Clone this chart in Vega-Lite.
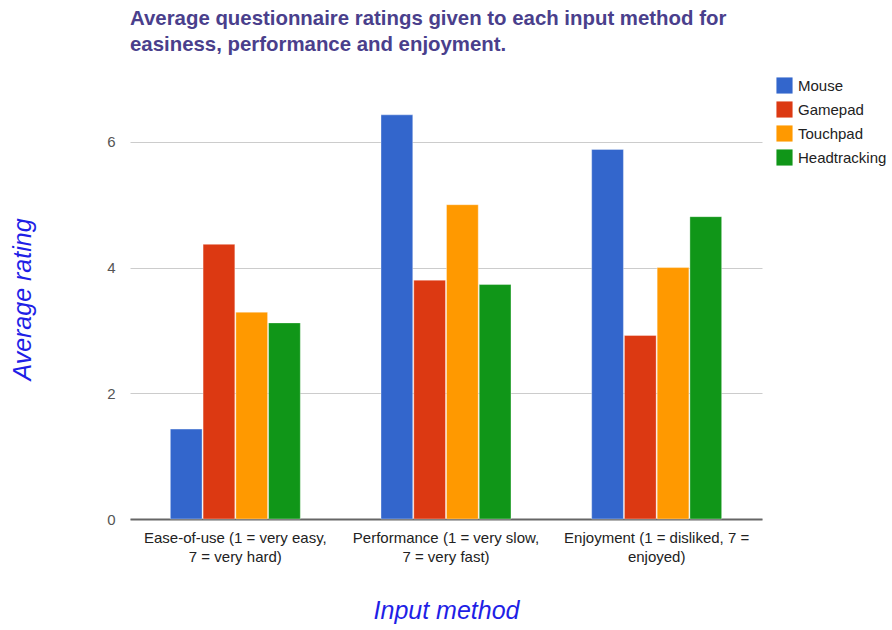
{
  "$schema": "https://vega.github.io/schema/vega-lite/v6.json",
  "width": 632,
  "height": 440,
  "autosize": {"type": "none"},
  "padding": {"left": 130, "top": 79, "right": 130, "bottom": 111},
  "background": "white",
  "config": {
    "font": "Liberation Sans",
    "view": {"stroke": null}
  },
  "title": {
    "text": ["Average questionnaire ratings given to each input method for", "easiness, performance and enjoyment."],
    "anchor": "start",
    "frame": "group",
    "fontSize": 20.4,
    "fontWeight": "bold",
    "color": "#4a3f8c",
    "lineHeight": 26,
    "offset": 22
  },
  "data": {
    "values": [
      {"measure": "Ease-of-use (1 = very easy, 7 = very hard)", "method": "Mouse", "rating": 1.43},
      {"measure": "Ease-of-use (1 = very easy, 7 = very hard)", "method": "Gamepad", "rating": 4.37},
      {"measure": "Ease-of-use (1 = very easy, 7 = very hard)", "method": "Touchpad", "rating": 3.29},
      {"measure": "Ease-of-use (1 = very easy, 7 = very hard)", "method": "Headtracking", "rating": 3.12},
      {"measure": "Performance (1 = very slow, 7 = very fast)", "method": "Mouse", "rating": 6.43},
      {"measure": "Performance (1 = very slow, 7 = very fast)", "method": "Gamepad", "rating": 3.8},
      {"measure": "Performance (1 = very slow, 7 = very fast)", "method": "Touchpad", "rating": 5.0},
      {"measure": "Performance (1 = very slow, 7 = very fast)", "method": "Headtracking", "rating": 3.73},
      {"measure": "Enjoyment (1 = disliked, 7 = enjoyed)", "method": "Mouse", "rating": 5.88},
      {"measure": "Enjoyment (1 = disliked, 7 = enjoyed)", "method": "Gamepad", "rating": 2.92},
      {"measure": "Enjoyment (1 = disliked, 7 = enjoyed)", "method": "Touchpad", "rating": 4.0},
      {"measure": "Enjoyment (1 = disliked, 7 = enjoyed)", "method": "Headtracking", "rating": 4.81}
    ]
  },
  "mark": {"type": "bar", "stroke": "white", "strokeWidth": 0.6, "strokeOpacity": 0.6},
  "encoding": {
    "x": {
      "field": "measure",
      "type": "nominal",
      "sort": null,
      "scale": {"paddingInner": 0.383, "paddingOuter": 0.1915},
      "axis": {
        "title": "Input method",
        "titleFontSize": 25,
        "titleFontStyle": "italic",
        "titleFontWeight": "normal",
        "titleColor": "#1f1fe6",
        "titleX": 316,
        "titleY": 99,
        "titleBaseline": "alphabetic",
        "titleAlign": "center",
        "labelAngle": 0,
        "labelFontSize": 15,
        "labelColor": "#222222",
        "labelPadding": 11,
        "labelLineHeight": 19,
        "labelLimit": 300,
        "labelExpr": "datum.label == 'Ease-of-use (1 = very easy, 7 = very hard)' ? ['Ease-of-use (1 = very easy,', '7 = very hard)'] : datum.label == 'Performance (1 = very slow, 7 = very fast)' ? ['Performance (1 = very slow,', '7 = very fast)'] : ['Enjoyment (1 = disliked, 7 =', 'enjoyed)']",
        "ticks": false,
        "domain": true,
        "domainColor": "#666666",
        "domainWidth": 2
      }
    },
    "xOffset": {
      "field": "method",
      "type": "nominal",
      "sort": ["Mouse", "Gamepad", "Touchpad", "Headtracking"],
      "scale": {"paddingInner": 0.03}
    },
    "y": {
      "field": "rating",
      "type": "quantitative",
      "scale": {"domain": [0, 7], "nice": false},
      "axis": {
        "title": "Average rating",
        "titleFontSize": 25,
        "titleFontStyle": "italic",
        "titleFontWeight": "normal",
        "titleColor": "#1f1fe6",
        "titleX": -108,
        "titleY": 220,
        "titleAngle": -90,
        "titleAlign": "center",
        "titleBaseline": "middle",
        "values": [0, 2, 4, 6],
        "labelFontSize": 15,
        "labelColor": "#555555",
        "labelPadding": 15,
        "ticks": false,
        "domain": false,
        "grid": true,
        "gridColor": "#cccccc",
        "gridWidth": 1
      }
    },
    "color": {
      "field": "method",
      "type": "nominal",
      "sort": ["Mouse", "Gamepad", "Touchpad", "Headtracking"],
      "scale": {
        "domain": ["Mouse", "Gamepad", "Touchpad", "Headtracking"],
        "range": ["#3366cc", "#dc3912", "#ff9900", "#109618"]
      },
      "legend": {
        "title": null,
        "orient": "none",
        "legendX": 646,
        "legendY": -2,
        "symbolType": "square",
        "symbolSize": 260,
        "symbolStrokeWidth": 0,
        "labelFontSize": 15,
        "labelColor": "#222222",
        "labelOffset": 5,
        "rowPadding": 7
      }
    }
  }
}
